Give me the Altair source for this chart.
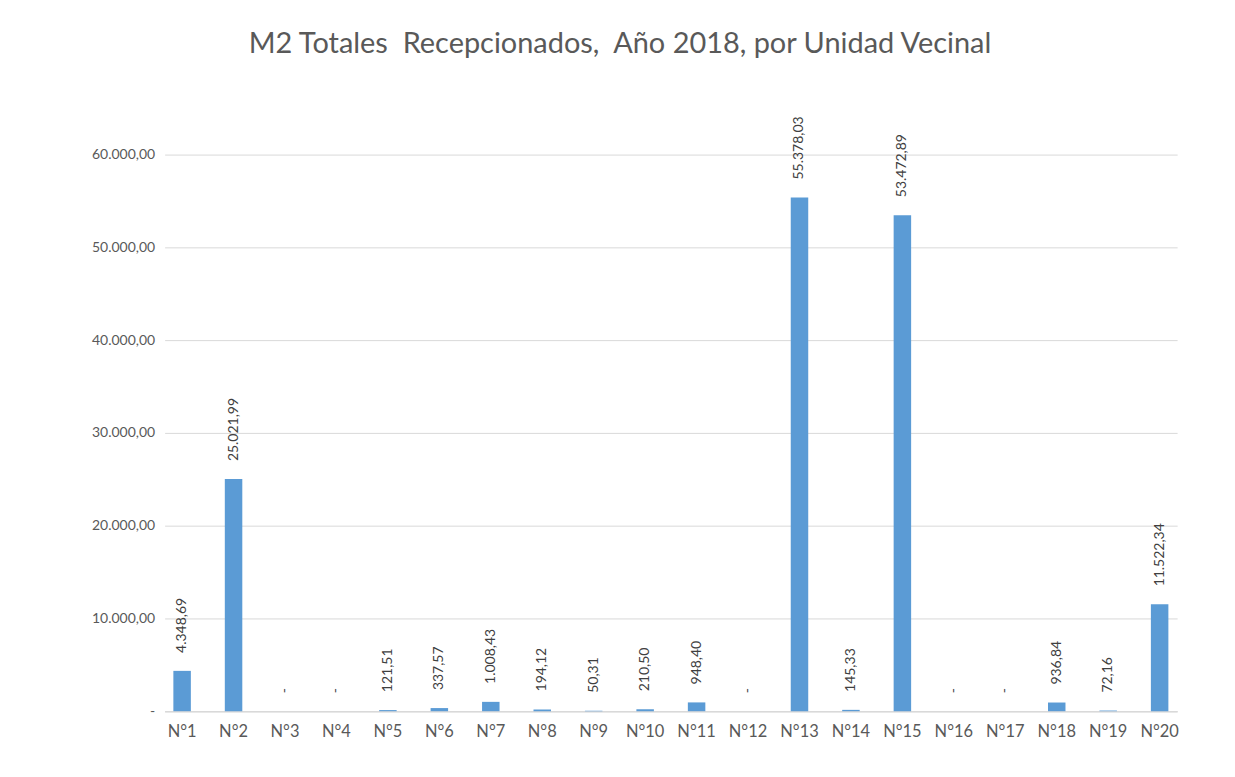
import altair as alt
import pandas as pd

categories = ["N°1", "N°2", "N°3", "N°4", "N°5", "N°6", "N°7", "N°8", "N°9", "N°10",
              "N°11", "N°12", "N°13", "N°14", "N°15", "N°16", "N°17", "N°18", "N°19", "N°20"]
values = [4348.69, 25021.99, 0, 0, 121.51, 337.57, 1008.43, 194.12, 50.31, 210.50,
          948.40, 0, 55378.03, 145.33, 53472.89, 0, 0, 936.84, 72.16, 11522.34]
y_ticks = [0, 10000, 20000, 30000, 40000, 50000, 60000]


def es_format(v):
    if v == 0:
        return "-"
    s = f"{v:,.2f}"
    return s.replace(",", "#").replace(".", ",").replace("#", ".")


df = pd.DataFrame({"cat": categories, "val": values,
                   "lbl": [es_format(v) for v in values]})

FONT = "Lato"
GREY = "#595959"

base = alt.Chart(df).encode(
    x=alt.X("cat:N", sort=categories, title=None,
            scale=alt.Scale(paddingInner=0.66, paddingOuter=0.17),
            axis=alt.Axis(labelAngle=0, labelFontSize=16.5, labelColor=GREY, labelFont=FONT,
                          labelPadding=12, ticks=False, domainColor="#D9D9D9",
                          domainWidth=1.5, grid=False)),
)

bars = base.mark_bar(color="#5B9BD5").encode(
    y=alt.Y("val:Q", title=None,
            scale=alt.Scale(domain=[0, 60000], nice=False),
            axis=alt.Axis(values=y_ticks, labelFontSize=14, labelColor=GREY, labelFont=FONT,
                          labelPadding=10, ticks=False, domain=False,
                          gridColor="#D9D9D9", gridWidth=1,
                          labelExpr="datum.value == 0 ? '-' : replace(replace(replace(format(datum.value, ',.2f'), '.', '#'), ',', '.'), '#', ',')"))
)

labels = base.mark_text(angle=270, align="left", baseline="middle", dx=18,
                        fontSize=14, color="#404040", font=FONT).encode(
    y=alt.Y("val:Q"),
    text="lbl:N",
)

chart = (bars + labels).properties(
    width=1015, height=558,
    background="white",
    autosize=alt.AutoSizeParams(type="none"),
    padding={"left": 157, "top": 146, "right": 50, "bottom": 60},
    title=alt.TitleParams("M2 Totales\u00a0\u00a0Recepcionados,\u00a0\u00a0Año 2018, por Unidad Vecinal",
                          fontSize=29, font=FONT, fontWeight="normal", color=GREY,
                          anchor="middle", dx=-51, offset=57),
).configure_view(strokeWidth=0)

chart.save("out.html", embed_options={"renderer": "svg", "actions": False})
